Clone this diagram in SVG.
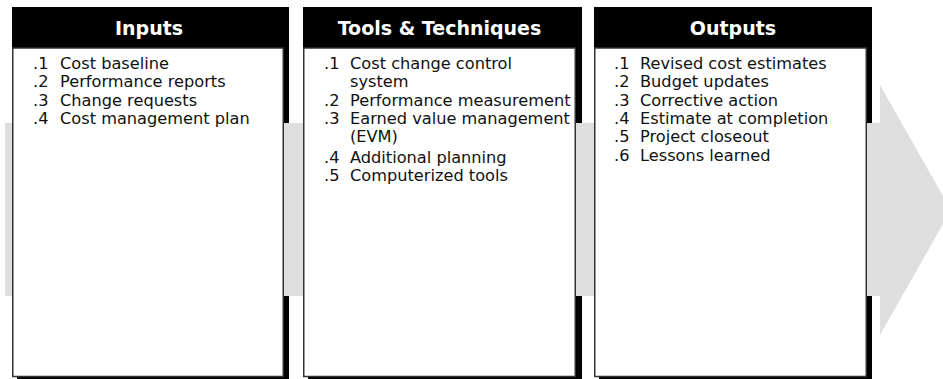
<svg xmlns="http://www.w3.org/2000/svg" width="943" height="379" viewBox="0 0 943 379">
<style>
.hdr{fill:#000}
.shd{fill:#000}
.body{fill:#fff;stroke:#333;stroke-width:1.5}
.ht{font-family:"DejaVu Sans",sans-serif;font-weight:bold;font-size:19px;fill:#fff;text-anchor:middle}
.t{font-family:"DejaVu Sans",sans-serif;font-size:16.2px;fill:#111}
.band{fill:#dedede}
</style>
<rect width="943" height="379" fill="#fff"/>
<g id="connectors">
<polygon class="band" points="5,123 880,123 880,85 951,210 880,335 880,296 5,296"/>
</g>
<g id="inputs">
<rect class="hdr" x="12" y="7" width="277" height="41"/>
<path class="shd" d="M283,48H289V123H283Z M283,296H289V379H17V377H283Z"/>
<rect class="body" x="12.75" y="48" width="270.5" height="328.5"/>
<text class="ht" x="149" y="35">Inputs</text>
<text class="t" x="33" y="69">.1</text><text class="t" x="60" y="69">Cost baseline</text>
<text class="t" x="33" y="87.3">.2</text><text class="t" x="60" y="87.3">Performance reports</text>
<text class="t" x="33" y="105.6">.3</text><text class="t" x="60" y="105.6">Change requests</text>
<text class="t" x="33" y="124">.4</text><text class="t" x="60" y="124">Cost management plan</text>
</g>
<g id="tools">
<rect class="hdr" x="303" y="7" width="279" height="41"/>
<path class="shd" d="M575,48H582V123H575Z M575,296H582V379H308V377H575Z"/>
<rect class="body" x="303.75" y="48" width="271.5" height="328.5"/>
<text class="ht" x="439.5" y="35">Tools &amp; Techniques</text>
<text class="t" x="324" y="69">.1</text><text class="t" x="350" y="69">Cost change control</text>
<text class="t" x="350" y="87.3">system</text>
<text class="t" x="324" y="105.6">.2</text><text class="t" x="350" y="105.6">Performance measurement</text>
<text class="t" x="324" y="124">.3</text><text class="t" x="350" y="124">Earned value management</text>
<text class="t" x="350" y="142.3">(EVM)</text>
<text class="t" x="324" y="162.5">.4</text><text class="t" x="350" y="162.5">Additional planning</text>
<text class="t" x="324" y="181">.5</text><text class="t" x="350" y="181">Computerized tools</text>
</g>
<g id="outputs">
<rect class="hdr" x="594" y="7" width="278" height="41"/>
<path class="shd" d="M866,48H872V123H866Z M866,296H872V379H599V377H866Z"/>
<rect class="body" x="594.75" y="48" width="271.5" height="328.5"/>
<text class="ht" x="733" y="35">Outputs</text>
<text class="t" x="614" y="69">.1</text><text class="t" x="640" y="69">Revised cost estimates</text>
<text class="t" x="614" y="87.3">.2</text><text class="t" x="640" y="87.3">Budget updates</text>
<text class="t" x="614" y="105.6">.3</text><text class="t" x="640" y="105.6">Corrective action</text>
<text class="t" x="614" y="124">.4</text><text class="t" x="640" y="124">Estimate at completion</text>
<text class="t" x="614" y="142.3">.5</text><text class="t" x="640" y="142.3">Project closeout</text>
<text class="t" x="614" y="160.6">.6</text><text class="t" x="640" y="160.6">Lessons learned</text>
</g>
</svg>
